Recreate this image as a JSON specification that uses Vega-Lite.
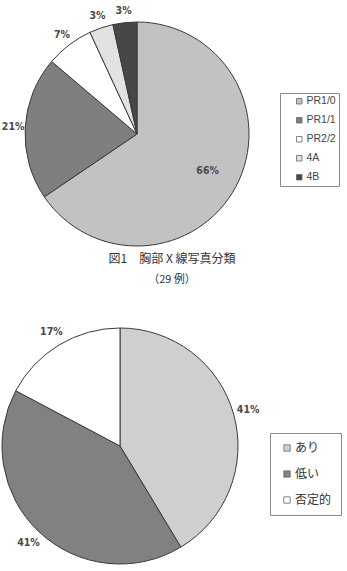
{
  "$schema": "https://vega.github.io/schema/vega-lite/v6.json",
  "padding": 0,
  "background": "white",
  "bounds": "flush",
  "spacing": 60,
  "config": {
    "view": {"stroke": null},
    "font": "Liberation Sans"
  },
  "resolve": {"scale": {"color": "independent"}, "legend": {"color": "independent"}},
  "vconcat": [
    {
      "width": 274,
      "height": 268,
      "data": {"values": [
        {"cat": "PR1/0", "n": 19, "k": 1, "label": "66%"},
        {"cat": "PR1/1", "n": 6, "k": 2, "label": "21%"},
        {"cat": "PR2/2", "n": 2, "k": 3, "label": "7%"},
        {"cat": "4A", "n": 1, "k": 4, "label": "3%"},
        {"cat": "4B", "n": 1, "k": 5, "label": "3%"}
      ]},
      "encoding": {
        "theta": {"field": "n", "type": "quantitative", "stack": true},
        "order": {"field": "k", "type": "quantitative"}
      },
      "layer": [
        {
          "mark": {"type": "arc", "outerRadius": 112, "stroke": "#3a3a3a", "strokeWidth": 1},
          "encoding": {
            "color": {
              "field": "cat", "type": "nominal",
              "scale": {"domain": ["PR1/0", "PR1/1", "PR2/2", "4A", "4B"], "range": ["#c2c2c2", "#7f7f7f", "#ffffff", "#e2e2e2", "#474749"]},
              "legend": {
                "title": null, "orient": "none", "legendX": 280, "legendY": 93,
                "strokeColor": "#8a8a8a", "padding": 3, "symbolType": "square", "symbolSize": 30,
                "symbolStrokeColor": "#666", "symbolStrokeWidth": 0.8, "labelFontSize": 10.5,
                "labelColor": "#444", "rowPadding": 8, "symbolOffset": 11, "labelOffset": 2,
                "labelFont": "Liberation Sans"
              }
            }
          }
        },
        {
          "mark": {"type": "text", "radius": 124, "fontSize": 10.5, "font": "DejaVu Sans Condensed, Liberation Sans", "fontWeight": "bold", "fill": "#4a4a4a"},
          "encoding": {"text": {"condition": {"test": "datum.n < 10", "field": "label"}, "value": ""}}
        },
        {
          "mark": {"type": "text", "radius": 80, "fontSize": 10.5, "font": "DejaVu Sans Condensed, Liberation Sans", "fontWeight": "bold", "fill": "#4a4a4a"},
          "encoding": {"text": {"condition": {"test": "datum.n >= 10", "field": "label"}, "value": ""}}
        }
      ]
    },
    {
      "width": 240,
      "height": 236,
      "title": {
        "text": "図1　胸部 X 線写真分類",
        "subtitle": "（29 例）",
        "orient": "top", "anchor": "middle", "frame": "group",
        "offset": 40, "dx": 52,
        "font": "Noto Sans CJK JP", "fontSize": 12, "fontWeight": "normal", "color": "#333",
        "subtitleFont": "Noto Sans CJK JP", "subtitleFontSize": 11, "subtitleColor": "#333", "subtitlePadding": 8
      },
      "data": {"values": [
        {"cat": "あり", "n": 12, "k": 1, "label": "41%"},
        {"cat": "低い", "n": 12, "k": 2, "label": "41%"},
        {"cat": "否定的", "n": 5, "k": 3, "label": "17%"}
      ]},
      "encoding": {
        "theta": {"field": "n", "type": "quantitative", "stack": true},
        "order": {"field": "k", "type": "quantitative"}
      },
      "layer": [
        {
          "mark": {"type": "arc", "outerRadius": 118, "stroke": "#3a3a3a", "strokeWidth": 1},
          "encoding": {
            "color": {
              "field": "cat", "type": "nominal",
              "scale": {"domain": ["あり", "低い", "否定的"], "range": ["#cfcfcf", "#818181", "#ffffff"]},
              "legend": {
                "title": null, "orient": "none", "legendX": 270, "legendY": 105,
                "strokeColor": "#8a8a8a", "padding": 9, "symbolType": "square", "symbolSize": 40,
                "symbolStrokeColor": "#666", "symbolStrokeWidth": 0.8, "labelFontSize": 12,
                "labelColor": "#333", "rowPadding": 14, "symbolOffset": 2, "labelOffset": 2,
                "labelFont": "Noto Sans CJK JP"
              }
            }
          }
        },
        {
          "mark": {"type": "text", "radius": 133, "fontSize": 10.5, "font": "DejaVu Sans Condensed, Liberation Sans", "fontWeight": "bold", "fill": "#4a4a4a"},
          "encoding": {"text": {"field": "label"}}
        }
      ]
    }
  ]
}
